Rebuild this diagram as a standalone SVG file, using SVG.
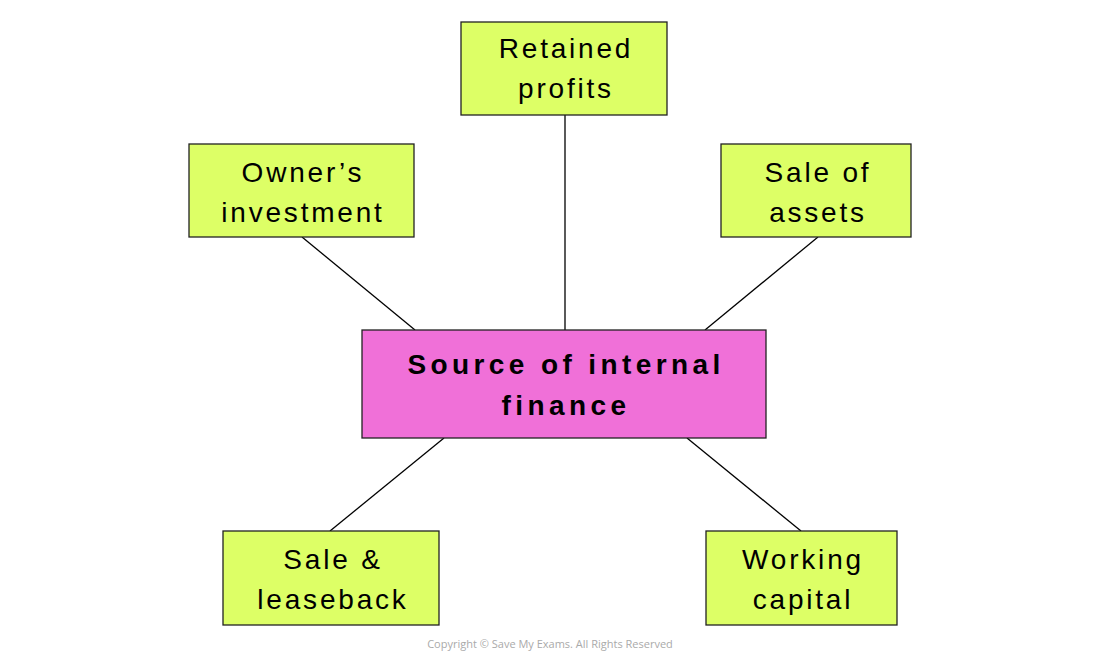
<svg xmlns="http://www.w3.org/2000/svg" width="1100" height="664" viewBox="0 0 1100 664">
<style>
.box{fill:#ddff66;stroke:#222;stroke-width:1.3}
.main{fill:#f070d8;stroke:#222;stroke-width:1.3}
.t{font-family:"Liberation Sans",Arial,sans-serif;font-size:28px;letter-spacing:2.8px;fill:#000;text-anchor:middle}
.tb{font-family:"Liberation Sans",Arial,sans-serif;font-size:28px;font-weight:bold;letter-spacing:4.4px;fill:#000;text-anchor:middle}
.ln{stroke:#000;stroke-width:1.3;fill:none}
.copy{font-family:"Open Sans","Liberation Sans",sans-serif;font-size:11px;fill:#aaa;text-anchor:middle}
</style>
<rect width="1100" height="664" fill="#fff"/>
<g id="connectors">
<line class="ln" x1="565" y1="115" x2="565" y2="330"/>
<line class="ln" x1="302" y1="237" x2="415" y2="330"/>
<line class="ln" x1="818" y1="237" x2="705" y2="330"/>
<line class="ln" x1="444" y1="438" x2="330" y2="531"/>
<line class="ln" x1="687" y1="438" x2="801" y2="531"/>
</g>
<g id="retained">
<rect class="box" x="461" y="22" width="206" height="93"/>
<text class="t" x="566" y="58">Retained</text>
<text class="t" x="566" y="98">profits</text>
</g>
<g id="owners">
<rect class="box" x="189" y="144" width="225" height="93"/>
<text class="t" x="303" y="182">Owner’s</text>
<text class="t" x="303" y="222">investment</text>
</g>
<g id="assets">
<rect class="box" x="721" y="144" width="190" height="93"/>
<text class="t" x="818" y="182">Sale of</text>
<text class="t" x="818" y="222">assets</text>
</g>
<g id="center">
<rect class="main" x="362" y="330" width="404" height="108"/>
<text class="tb" x="566" y="374">Source of internal</text>
<text class="tb" x="566" y="415">finance</text>
</g>
<g id="leaseback">
<rect class="box" x="223" y="531" width="216" height="94"/>
<text class="t" x="333" y="569">Sale &amp;</text>
<text class="t" x="333" y="609">leaseback</text>
</g>
<g id="working">
<rect class="box" x="706" y="531" width="191" height="94"/>
<text class="t" x="803" y="569">Working</text>
<text class="t" x="803" y="609">capital</text>
</g>
<text class="copy" x="550" y="648">Copyright © Save My Exams. All Rights Reserved</text>
</svg>
